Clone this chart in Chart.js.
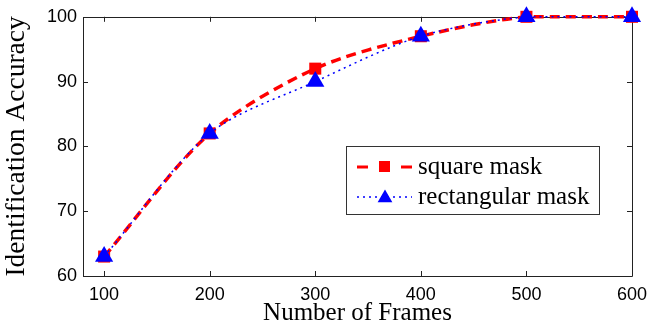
<!DOCTYPE html>
<html>
<head>
<meta charset="utf-8">
<script src="https://cdn.jsdelivr.net/npm/chart.js@4"></script>
<style>
    html, body { margin: 0; padding: 0; background: #fff; }
    #wrap { width: 670px; height: 335px; position: relative; }
</style>
</head>
<body>
<div id="wrap"><canvas id="chart"></canvas></div>
<script>
const frames = [100, 200, 300, 400, 500, 600];
const squareMask = [63, 82, 92, 97, 100, 100];
const rectangularMask = [63, 82, 90, 97, 100, 100];
const xTicks = [100, 200, 300, 400, 500, 600];
const yTicks = [60, 70, 80, 90, 100];

const RED = '#ff0000';
const BLUE = '#0000ff';
const serif = '"Liberation Serif", "Times New Roman", serif';
const sans = '"Liberation Sans", Arial, Helvetica, sans-serif';

// matlab style box with inward ticks
const boxTicks = {
    id: 'boxTicks',
    beforeDatasetsDraw(chart) {
        const {ctx, chartArea: a, scales} = chart;
        ctx.save();
        ctx.strokeStyle = '#222';
        ctx.lineWidth = 1;
        ctx.beginPath();
        ctx.rect(Math.round(a.left) + 0.5, Math.round(a.top) + 0.5,
            Math.round(a.right - a.left), Math.round(a.bottom - a.top));
        xTicks.forEach((v) => {
            const x = Math.round(scales.x.getPixelForValue(v)) + 0.5;
            ctx.moveTo(x, a.bottom);
            ctx.lineTo(x, a.bottom - 5);
            ctx.moveTo(x, a.top);
            ctx.lineTo(x, a.top + 5);
        });
        yTicks.forEach((v) => {
            const y = Math.round(scales.y.getPixelForValue(v)) + 0.5;
            ctx.moveTo(a.left, y);
            ctx.lineTo(a.left + 5, y);
            ctx.moveTo(a.right, y);
            ctx.lineTo(a.right - 5, y);
        });
        ctx.stroke();
        ctx.restore();
    },
};

function drawTriangle(ctx, x, y, r) {
    ctx.beginPath();
    ctx.moveTo(x, y - r);
    ctx.lineTo(x + r * 0.866, y + r * 0.5);
    ctx.lineTo(x - r * 0.866, y + r * 0.5);
    ctx.closePath();
    ctx.fill();
}

const boxLegend = {
    id: 'boxLegend',
    afterDraw(chart) {
        const {ctx} = chart;
        const left = 346, top = 146, width = 253, height = 68;
        const rows = [top + 21, top + 51];
        ctx.save();
        ctx.fillStyle = '#fff';
        ctx.fillRect(left, top, width, height);
        ctx.strokeStyle = '#333';
        ctx.lineWidth = 1;
        ctx.strokeRect(left + 0.5, top + 0.5, width, height);

        // square mask sample
        ctx.strokeStyle = RED;
        ctx.lineWidth = 3;
        ctx.beginPath();
        ctx.moveTo(357, rows[0]);
        ctx.lineTo(368, rows[0]);
        ctx.moveTo(401, rows[0]);
        ctx.lineTo(412, rows[0]);
        ctx.stroke();
        ctx.fillStyle = RED;
        ctx.fillRect(379, rows[0] - 6, 11, 11);

        // rectangular mask sample
        ctx.strokeStyle = BLUE;
        ctx.lineWidth = 1.5;
        ctx.setLineDash([2, 4]);
        ctx.beginPath();
        ctx.moveTo(357, rows[1]);
        ctx.lineTo(412, rows[1]);
        ctx.stroke();
        ctx.setLineDash([]);
        ctx.fillStyle = BLUE;
        drawTriangle(ctx, 385, rows[1] + 1, 8.5);

        ctx.fillStyle = '#000';
        ctx.font = '25px ' + serif;
        ctx.textBaseline = 'middle';
        ctx.fillText('square mask', 418, rows[0]);
        ctx.fillText('rectangular mask', 418, rows[1]);
        ctx.restore();
    },
};

new Chart(document.getElementById('chart'), {
    type: 'line',
    data: {
        datasets: [
            {
                label: 'square mask',
                data: frames.map((f, i) => ({x: f, y: squareMask[i]})),
                borderColor: RED,
                backgroundColor: RED,
                borderWidth: 3.5,
                borderDash: [10, 6],
                pointStyle: 'rect',
                pointRadius: 8.5,
                pointBorderWidth: 0,
                tension: 0.3,
                clip: false,
                order: 1,
            },
            {
                label: 'rectangular mask',
                data: frames.map((f, i) => ({x: f, y: rectangularMask[i]})),
                borderColor: BLUE,
                backgroundColor: BLUE,
                borderWidth: 1.5,
                borderDash: [2, 4],
                pointStyle: 'triangle',
                pointRadius: 10.5,
                pointBorderWidth: 0,
                tension: 0.3,
                clip: false,
                order: 0,
            },
        ],
    },
    options: {
        responsive: true,
        maintainAspectRatio: false,
        animation: false,
        layout: {
            padding: {top: 16, right: 38, left: 0, bottom: 0},
        },
        plugins: {
            legend: {display: false},
            tooltip: {enabled: false},
        },
        scales: {
            x: {
                type: 'linear',
                min: 80,
                max: 600,
                afterBuildTicks(scale) {
                    scale.ticks = xTicks.map((v) => ({value: v}));
                },
                afterFit(scale) {
                    scale.height = 59;
                },
                grid: {display: false, drawTicks: false},
                border: {display: false},
                ticks: {
                    color: '#000',
                    padding: 8,
                    maxRotation: 0,
                    font: {family: sans, size: 18},
                },
                title: {
                    display: true,
                    text: 'Number of Frames',
                    color: '#000',
                    font: {family: serif, size: 25},
                    padding: {top: 0, bottom: 7},
                },
            },
            y: {
                min: 60,
                max: 100,
                afterBuildTicks(scale) {
                    scale.ticks = yTicks.map((v) => ({value: v}));
                },
                afterFit(scale) {
                    scale.width = 83;
                },
                grid: {display: false, drawTicks: false},
                border: {display: false},
                ticks: {
                    color: '#000',
                    padding: 6,
                    font: {family: sans, size: 18},
                },
                title: {
                    display: true,
                    text: 'Identification Accuracy',
                    color: '#000',
                    font: {family: serif, size: 27.5},
                    padding: {top: 0, bottom: 0},
                },
            },
        },
    },
    plugins: [boxTicks, boxLegend],
});
</script>
</body>
</html>
